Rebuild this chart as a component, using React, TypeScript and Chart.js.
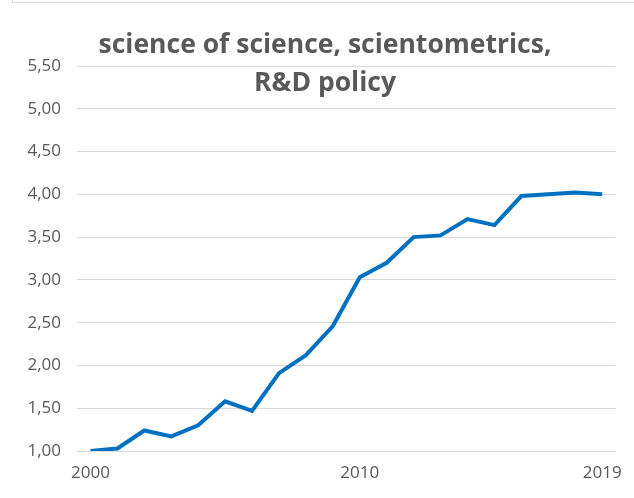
import React, { useEffect, useRef } from "react";
import { Chart, registerables } from "chart.js";

Chart.register(...registerables);

const years: string[] = [
  "2000", "2001", "2002", "2003", "2004", "2005", "2006", "2007", "2008", "2009",
  "2010", "2011", "2012", "2013", "2014", "2015", "2016", "2017", "2018", "2019",
];
const values: number[] = [
  1.0, 1.03, 1.24, 1.17, 1.3, 1.58, 1.47, 1.91, 2.12, 2.46,
  3.03, 3.2, 3.5, 3.52, 3.71, 3.64, 3.98, 4.0, 4.02, 4.0,
];
const shownYearLabels: string[] = ["2000", "2010", "2019"];
const titleLines: string[] = ["science of science, scientometrics,", "R&D policy"];

const GRAY = "#595959";
const FONT = "'Open Sans', 'Noto Sans', sans-serif";

export default function App() {
  const ref = useRef<HTMLCanvasElement | null>(null);

  useEffect(() => {
    document.body.style.margin = "0";
    const canvas = ref.current;
    if (!canvas) return;

    const overlay = {
      id: "overlay",
      afterDraw(chart: any) {
        const ctx = chart.ctx;
        ctx.save();
        // frame remnant
        ctx.strokeStyle = "#d9d9d9";
        ctx.lineWidth = 1;
        ctx.beginPath();
        ctx.moveTo(12.5, 0);
        ctx.lineTo(12.5, 2.5);
        ctx.lineTo(634, 2.5);
        ctx.stroke();
        // title
        ctx.fillStyle = GRAY;
        ctx.font = `bold 26.5px ${FONT}`;
        ctx.textAlign = "center";
        ctx.textBaseline = "alphabetic";
        const cx = 325;
        ctx.fillText(titleLines[0], cx, 53);
        ctx.fillText(titleLines[1], cx, 91);
        ctx.restore();
      },
    };

    const chart = new Chart(canvas, {
      type: "line",
      data: {
        labels: years,
        datasets: [
          {
            data: values,
            borderColor: "#0070C0",
            backgroundColor: "#0070C0",
            borderWidth: 4,
            pointRadius: 0,
            tension: 0,
            fill: false,
          },
        ],
      },
      options: {
        animation: false,
        responsive: false,
        maintainAspectRatio: false,
        layout: { padding: { top: 66, right: 16, left: 0, bottom: 0 } },
        plugins: {
          legend: { display: false },
          title: { display: false },
          tooltip: { enabled: false },
        },
        scales: {
          x: {
            offset: true,
            grid: { display: false, drawTicks: false },
            border: { display: false },
            afterFit: (s: any) => {
              s.height = 47;
            },
            ticks: {
              autoSkip: false,
              maxRotation: 0,
              padding: 12,
              color: GRAY,
              font: { family: FONT, size: 17 },
              callback: (_v: any, i: number) =>
                shownYearLabels.includes(years[i]) ? years[i] : "",
            },
          },
          y: {
            min: 1,
            max: 5.5,
            grid: { color: "#d9d9d9", lineWidth: 1, drawTicks: false },
            border: { display: false },
            afterFit: (s: any) => {
              s.width = 77;
            },
            ticks: {
              stepSize: 0.5,
              padding: 16,
              color: GRAY,
              font: { family: FONT, size: 17 },
              callback: (v: any) => Number(v).toFixed(2).replace(".", ","),
            },
          },
        },
      },
      plugins: [overlay],
    });

    return () => chart.destroy();
  }, []);

  return (
    <div style={{ position: "absolute", left: 0, top: 0, width: 634, height: 498 }}>
      <canvas ref={ref} width={634} height={498} />
    </div>
  );
}
